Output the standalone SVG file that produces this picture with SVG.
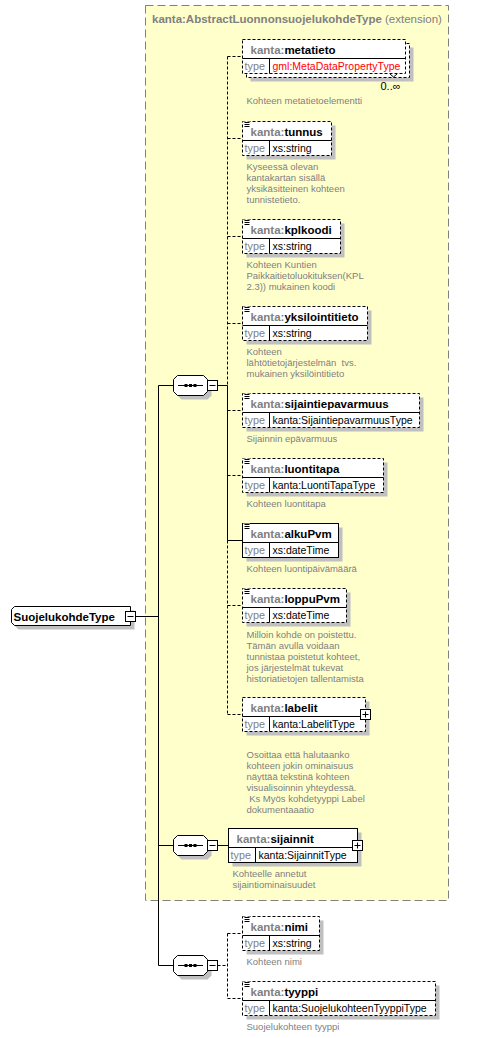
<svg xmlns="http://www.w3.org/2000/svg" width="491" height="1038" viewBox="0 0 491 1038">
<style>
text{font-family:"Liberation Sans",Arial,sans-serif}
.bg{fill:#ffffcc;stroke:#808080;stroke-dasharray:8,4}
.sh{fill:#c0c0c0}
.bx{fill:#fff;stroke:#000;stroke-dasharray:3,2}
.bs{fill:#fff;stroke:#000}
.tt{font-weight:bold;font-size:11.5px;fill:#000}
.ns{fill:#808080}
.ty{font-size:10.8px;fill:#808080}
.tv{font-size:10.5px;fill:#000}
.red{fill:#ff0000}
.ds{font-size:9.5px;fill:#808080}
.cd{stroke:#000;fill:none;stroke-dasharray:3,2}
.cs{stroke:#000;fill:none}
</style>
<defs>
<g id="seq">
<path class="sh" d="M181.5 379.5H207.5L211.5 383.5V395.5L207.5 399.5H181.5L177.5 395.5V383.5Z"/>
<path d="M177.5 375.5H203.5L207.5 379.5V391.5L203.5 395.5H177.5L173.5 391.5V379.5Z" fill="#fff" stroke="#000"/>
<line x1="178" y1="385.5" x2="203" y2="385.5" stroke="#000"/>
<rect x="184.5" y="384" width="3" height="3" fill="#000"/>
<rect x="189" y="384" width="3" height="3" fill="#000"/>
<rect x="193.5" y="384" width="3" height="3" fill="#000"/>
<rect x="207.5" y="380.5" width="10" height="10" fill="#fff" stroke="#000"/>
<line x1="209.5" y1="385.5" x2="215.5" y2="385.5" stroke="#000"/>
</g>
<g id="icon">
<rect x="0" y="-0.5" width="7" height="6" fill="#fff"/>
<path d="M1.5 0.5h5M1.5 2.5h5M1.5 4.5h5" stroke="#000"/>
</g>
</defs>

<rect class="bg" x="145.5" y="5.5" width="303" height="895"/>
<text x="152" y="23" class="tt ns">kanta:AbstractLuonnonsuojelukohdeType<tspan font-weight="normal"> (extension)</tspan></text>

<g id="connectors">
<path class="cd" d="M227.5 56.5V385.5M227.5 540.5V714.5"/>
<path class="cs" d="M227.5 385.5V540.5"/>
<path class="cd" d="M227.5 56.5H242.5M227.5 138.5H242.5M227.5 236.5H242.5M227.5 323.5H242.5M227.5 410.5H242.5M227.5 475.5H242.5M227.5 605.5H242.5M227.5 714.5H242.5"/>
<path class="cs" d="M227.5 540.5H242.5M217.5 385.5H227.5"/>
<path class="cs" d="M135.5 616.5H158.5M158.5 385.5V965.5M158.5 385.5H173.5M158.5 845.5H173.5M158.5 965.5H173.5M217.5 845.5H228.5"/>
<path class="cd" d="M217.5 965.5H227.5M227.5 933.5V998.5M227.5 933.5H242.5M227.5 998.5H242.5"/>
</g>

<g id="root">
<path class="sh" d="M18.5 610.5h116v19h-116l-3-3v-13z"/>
<path d="M14.5 606.5h116v19h-116l-3-3v-13z" fill="#fff" stroke="#000"/>
<text x="13.5" y="620.5" class="tt">SuojelukohdeType</text>
<rect x="125.5" y="611.5" width="10" height="10" fill="#fff" stroke="#000"/>
<line x1="127.5" y1="616.5" x2="133.5" y2="616.5" stroke="#000"/>
</g>

<g id="seq1"><use href="#seq"/></g>
<g id="seq2"><use href="#seq" transform="translate(0,460)"/></g>
<g id="seq3"><use href="#seq" transform="translate(0,580)"/></g>

<g id="metatieto">
<rect class="sh" x="250.5" y="47.5" width="163" height="34"/>
<rect class="bx" x="246.5" y="43.5" width="163" height="34"/>
<rect class="bx" x="242.5" y="39.5" width="163" height="34"/>
<path class="cs" d="M242.5 58.5H405.5M269.5 58.5V73.5"/>
<text x="250.5" y="53.5" class="tt"><tspan class="ns">kanta:</tspan>metatieto</text>
<text x="244.5" y="70" class="ty">type</text>
<text x="272.5" y="70" class="tv red">gml:MetaDataPropertyType</text>
<path class="cs" d="M390 74l3.5 3l3.5-3"/>
<text x="380.5" y="90" font-size="11px" fill="#000">0..∞</text>
<text x="246.5" y="104" class="ds">Kohteen metatietoelementti</text>
</g>

<g id="tunnus">
<rect class="sh" x="246.5" y="125.5" width="89" height="34"/>
<rect class="bx" x="242.5" y="121.5" width="89" height="34"/>
<path class="cs" d="M242.5 140.5H331.5M269.5 140.5V155.5"/>
<use href="#icon" x="243" y="122"/>
<text x="250.5" y="135.5" class="tt"><tspan class="ns">kanta:</tspan>tunnus</text>
<text x="244.5" y="152" class="ty">type</text>
<text x="272.5" y="152" class="tv">xs:string</text>
<text class="ds"><tspan x="246.5" y="170">Kyseessä olevan</tspan><tspan x="246.5" y="181">kantakartan sisällä</tspan><tspan x="246.5" y="192">yksikäsitteinen kohteen</tspan><tspan x="246.5" y="203">tunnistetieto.</tspan></text>
</g>

<g id="kplkoodi">
<rect class="sh" x="246.5" y="223.5" width="98" height="34"/>
<rect class="bx" x="242.5" y="219.5" width="98" height="34"/>
<path class="cs" d="M242.5 238.5H340.5M269.5 238.5V253.5"/>
<use href="#icon" x="243" y="220"/>
<text x="250.5" y="233.5" class="tt"><tspan class="ns">kanta:</tspan>kplkoodi</text>
<text x="244.5" y="250" class="ty">type</text>
<text x="272.5" y="250" class="tv">xs:string</text>
<text class="ds"><tspan x="246.5" y="268">Kohteen Kuntien</tspan><tspan x="246.5" y="279">Paikkaitietoluokituksen(KPL</tspan><tspan x="246.5" y="290">2.3)) mukainen koodi</tspan></text>
</g>

<g id="yksilointitieto">
<rect class="sh" x="246.5" y="310.5" width="125" height="34"/>
<rect class="bx" x="242.5" y="306.5" width="125" height="34"/>
<path class="cs" d="M242.5 325.5H367.5M269.5 325.5V340.5"/>
<use href="#icon" x="243" y="307"/>
<text x="250.5" y="320.5" class="tt"><tspan class="ns">kanta:</tspan>yksilointitieto</text>
<text x="244.5" y="337" class="ty">type</text>
<text x="272.5" y="337" class="tv">xs:string</text>
<text class="ds" xml:space="preserve"><tspan x="246.5" y="355">Kohteen</tspan><tspan x="246.5" y="366">lähtötietojärjestelmän  tvs.</tspan><tspan x="246.5" y="377">mukainen yksilöintitieto</tspan></text>
</g>

<g id="sijaintiepavarmuus">
<rect class="sh" x="246.5" y="397.5" width="177" height="34"/>
<rect class="bx" x="242.5" y="393.5" width="177" height="34"/>
<path class="cs" d="M242.5 412.5H419.5M269.5 412.5V427.5"/>
<use href="#icon" x="243" y="394"/>
<text x="250.5" y="407.5" class="tt"><tspan class="ns">kanta:</tspan>sijaintiepavarmuus</text>
<text x="244.5" y="424" class="ty">type</text>
<text x="272.5" y="424" class="tv">kanta:SijaintiepavarmuusType</text>
<text x="246.5" y="442" class="ds">Sijainnin epävarmuus</text>
</g>

<g id="luontitapa">
<rect class="sh" x="246.5" y="462.5" width="141" height="34"/>
<rect class="bx" x="242.5" y="458.5" width="141" height="34"/>
<path class="cs" d="M242.5 477.5H383.5M269.5 477.5V492.5"/>
<use href="#icon" x="243" y="459"/>
<text x="250.5" y="472.5" class="tt"><tspan class="ns">kanta:</tspan>luontitapa</text>
<text x="244.5" y="489" class="ty">type</text>
<text x="272.5" y="489" class="tv">kanta:LuontiTapaType</text>
<text x="246.5" y="507" class="ds">Kohteen luontitapa</text>
</g>

<g id="alkuPvm">
<rect class="sh" x="246.5" y="527.5" width="96" height="34"/>
<rect class="bs" x="242.5" y="523.5" width="96" height="34"/>
<path class="cs" d="M242.5 542.5H338.5M269.5 542.5V557.5"/>
<use href="#icon" x="243" y="524"/>
<text x="250.5" y="537.5" class="tt"><tspan class="ns">kanta:</tspan>alkuPvm</text>
<text x="244.5" y="554" class="ty">type</text>
<text x="272.5" y="554" class="tv">xs:dateTime</text>
<text x="246.5" y="572" class="ds">Kohteen luontipäivämäärä</text>
</g>

<g id="loppuPvm">
<rect class="sh" x="246.5" y="592.5" width="104" height="34"/>
<rect class="bx" x="242.5" y="588.5" width="104" height="34"/>
<path class="cs" d="M242.5 607.5H346.5M269.5 607.5V622.5"/>
<use href="#icon" x="243" y="589"/>
<text x="250.5" y="602.5" class="tt"><tspan class="ns">kanta:</tspan>loppuPvm</text>
<text x="244.5" y="619" class="ty">type</text>
<text x="272.5" y="619" class="tv">xs:dateTime</text>
<text class="ds"><tspan x="246.5" y="638">Milloin kohde on poistettu.</tspan><tspan x="246.5" y="649">Tämän avulla voidaan</tspan><tspan x="246.5" y="660">tunnistaa poistetut kohteet,</tspan><tspan x="246.5" y="671">jos järjestelmät tukevat</tspan><tspan x="246.5" y="682">historiatietojen tallentamista</tspan></text>
</g>

<g id="labelit">
<rect class="sh" x="246.5" y="701.5" width="123" height="34"/>
<rect class="bx" x="242.5" y="697.5" width="123" height="34"/>
<path class="cs" d="M242.5 716.5H365.5M269.5 716.5V731.5"/>
<text x="250.5" y="711.5" class="tt"><tspan class="ns">kanta:</tspan>labelit</text>
<text x="244.5" y="728" class="ty">type</text>
<text x="272.5" y="728" class="tv">kanta:LabelitType</text>
<rect x="360.5" y="709.5" width="10" height="10" fill="#fff" stroke="#000"/>
<path class="cs" d="M362.5 714.5h6M365.5 711.5v6"/>
<text class="ds" xml:space="preserve"><tspan x="246.5" y="758">Osoittaa että halutaanko</tspan><tspan x="246.5" y="769">kohteen jokin ominaisuus</tspan><tspan x="246.5" y="780">näyttää tekstinä kohteen</tspan><tspan x="246.5" y="791">visualisoinnin yhteydessä.</tspan><tspan x="246.5" y="802"> Ks Myös kohdetyyppi Label</tspan><tspan x="246.5" y="813">dokumentaaatio</tspan></text>
</g>

<g id="sijainnit">
<rect class="sh" x="232.5" y="832.5" width="129" height="34"/>
<rect class="bs" x="228.5" y="828.5" width="129" height="34"/>
<path class="cs" d="M228.5 847.5H357.5M255.5 847.5V862.5"/>
<text x="236.5" y="842.5" class="tt"><tspan class="ns">kanta:</tspan>sijainnit</text>
<text x="230.5" y="859" class="ty">type</text>
<text x="258.5" y="859" class="tv">kanta:SijainnitType</text>
<rect x="352.5" y="840.5" width="10" height="10" fill="#fff" stroke="#000"/>
<path class="cs" d="M354.5 845.5h6M357.5 842.5v6"/>
<text class="ds"><tspan x="232.5" y="877">Kohteelle annetut</tspan><tspan x="232.5" y="888">sijaintiominaisuudet</tspan></text>
</g>

<g id="nimi">
<rect class="sh" x="246.5" y="920.5" width="77" height="34"/>
<rect class="bx" x="242.5" y="916.5" width="77" height="34"/>
<path class="cs" d="M242.5 935.5H319.5M269.5 935.5V950.5"/>
<use href="#icon" x="243" y="917"/>
<text x="250.5" y="930.5" class="tt"><tspan class="ns">kanta:</tspan>nimi</text>
<text x="244.5" y="947" class="ty">type</text>
<text x="272.5" y="947" class="tv">xs:string</text>
<text x="246.5" y="965" class="ds">Kohteen nimi</text>
</g>

<g id="tyyppi">
<rect class="sh" x="246.5" y="985.5" width="193" height="34"/>
<rect class="bx" x="242.5" y="981.5" width="193" height="34"/>
<path class="cs" d="M242.5 1000.5H435.5M269.5 1000.5V1015.5"/>
<use href="#icon" x="243" y="982"/>
<text x="250.5" y="995.5" class="tt"><tspan class="ns">kanta:</tspan>tyyppi</text>
<text x="244.5" y="1012" class="ty">type</text>
<text x="272.5" y="1012" class="tv">kanta:SuojelukohteenTyyppiType</text>
<text x="246.5" y="1030" class="ds">Suojelukohteen tyyppi</text>
</g>
</svg>
